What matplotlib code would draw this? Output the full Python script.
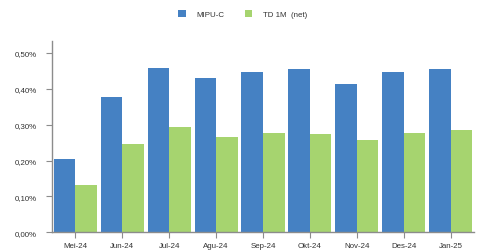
import matplotlib
matplotlib.use("Agg")
import matplotlib.pyplot as plt
import numpy as np
from matplotlib.ticker import FuncFormatter

categories = ["Mei-24", "Jun-24", "Jul-24", "Agu-24", "Sep-24", "Okt-24", "Nov-24", "Des-24", "Jan-25"]
mipu = [0.204, 0.377, 0.458, 0.430, 0.447, 0.455, 0.413, 0.447, 0.455]
td1m = [0.132, 0.246, 0.293, 0.265, 0.276, 0.274, 0.257, 0.276, 0.285]
series_names = ["MIPU-C", "TD 1M  (net)"]

plt.rcParams['font.family'] = ['Liberation Sans', 'DejaVu Sans']

fig = plt.figure(figsize=(4.86, 2.53), dpi=100)
ax = fig.add_axes([52/486, (253-233.3)/253, (474-52)/486, (233.3-42)/253])

x = np.arange(len(categories))
w = 0.46
b1 = ax.bar(x - w/2, mipu, width=w, color="#4581c3", label=series_names[0])
b2 = ax.bar(x + w/2, td1m, width=w, color="#a6d46f", label=series_names[1])

ax.set_xlim(-0.5, len(categories) - 0.5)
ax.set_ylim(0, 0.533)
ax.set_yticks([0, 0.1, 0.2, 0.3, 0.4, 0.5])
ax.yaxis.set_major_formatter(FuncFormatter(lambda v, p: f"{v:.2f}%".replace(".", ",")))
ax.set_xticks(x)
ax.set_xticklabels(categories)

for s in ["top", "right"]:
    ax.spines[s].set_visible(False)
for s in ["left", "bottom"]:
    ax.spines[s].set_color("#8c8c8c")
    ax.spines[s].set_linewidth(1.0)
ax.tick_params(axis="both", colors="#8c8c8c", labelcolor="#333333", labelsize=5.7, length=4, width=0.8)
ax.tick_params(axis="y", pad=7)
ax.tick_params(axis="x", pad=3)

fig.legend(handles=[b1, b2], labels=series_names, loc="center", bbox_to_anchor=(0.5, 1 - 15/253),
           ncol=2, frameon=False, fontsize=5.7, handlelength=0.9, handleheight=0.9,
           columnspacing=2.6, handletextpad=1.4, labelcolor="#333333")

fig.savefig("out.png", dpi=100)
